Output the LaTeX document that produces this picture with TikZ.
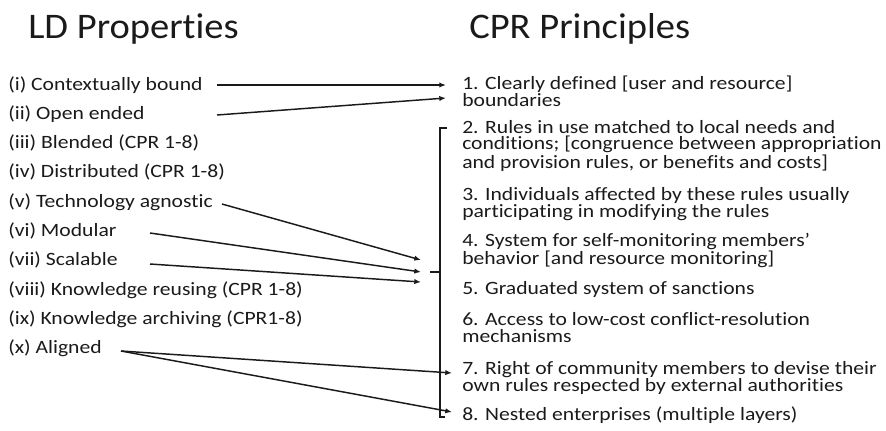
\documentclass[tikz,border=0pt]{standalone}
\usepackage{fontspec}
\setmainfont[FakeStretch=1.15, Ligatures=NoCommon]{Carlito}
\newfontfamily\titlefont[FakeStretch=1.07, Ligatures=NoCommon]{Carlito}
\usetikzlibrary{arrows.meta}
\definecolor{ink}{HTML}{1A1A1A}
\tikzset{
  titletext/.style={anchor=base west, inner sep=0pt, text=ink, font=\titlefont\fontsize{27pt}{30pt}\selectfont},
  lefttext/.style={anchor=base west, inner sep=0pt, text=ink, font=\fontsize{14.1pt}{16pt}\selectfont},
  righttext/.style={anchor=base west, inner sep=0pt, text=ink, align=left, font=\fontsize{14.1pt}{12.4pt}\selectfont},
  arr/.style={draw=ink, line width=1.1pt, -{Latex[length=5pt,width=4pt]}},
  brk/.style={draw=ink, line width=1.1pt}
}
\begin{document}
\begin{tikzpicture}[x=0.75pt, y=-0.75pt]
\useasboundingbox (0,0) rectangle (886,430);
% titles
\node[titletext] (t1) at (28,38) {LD Properties};
\node[titletext] (t2) at (469,38) {CPR Principles};
% left items
\node[lefttext] (l1) at (8,90.0) {(i) Contextually bound};
\node[lefttext] (l2) at (8,119.3) {(ii) Open ended};
\node[lefttext] (l3) at (8,148.6) {(iii) Blended (CPR 1-8)};
\node[lefttext] (l4) at (8,177.9) {(iv) Distributed (CPR 1-8)};
\node[lefttext] (l5) at (8,207.2) {(v) Technology agnostic};
\node[lefttext] (l6) at (8,236.5) {(vi) Modular};
\node[lefttext] (l7) at (8,265.8) {(vii) Scalable};
\node[lefttext] (l8) at (8,295.1) {(viii) Knowledge reusing (CPR 1-8)};
\node[lefttext] (l9) at (8,324.4) {(ix) Knowledge archiving (CPR1-8)};
\node[lefttext] (l10) at (8,353.7) {(x) Aligned};
% right items (anchor at baseline of last line)
\node[righttext] (r1) at (462,106.5) {1. Clearly defined [user and resource]\\boundaries};
\node[righttext] (r2) at (462,168) {2. Rules in use matched to local needs and\\conditions; [congruence between appropriation\\and provision rules, or benefits and costs]};
\node[righttext] (r3) at (462,217.1) {3. Individuals affected by these rules usually\\participating in modifying the rules};
\node[righttext] (r4) at (462,264.2) {4. System for self-monitoring members’\\behavior [and resource monitoring]};
\node[righttext] (r5) at (462,294.8) {5. Graduated system of sanctions};
\node[righttext] (r6) at (462,342) {6. Access to low-cost conflict-resolution\\mechanisms};
\node[righttext] (r7) at (462,391) {7. Right of community members to devise their\\own rules respected by external authorities};
\node[righttext] (r8) at (462,420) {8. Nested enterprises (multiple layers)};
% bracket
\coordinate (bt) at (447,128);
\coordinate (btl) at (440,128);
\coordinate (bbl) at (440,417);
\coordinate (bb) at (445,417);
\coordinate (bm) at (440,272);
\coordinate (bmt) at (430,272);
\draw[brk] (bt) -- (btl) -- (bbl) -- (bb);
\draw[brk] (bm) -- (bmt);
% arrow endpoints
\coordinate (s1) at (217,85);
\coordinate (s2) at (217,115);
\coordinate (e1) at (446,85);
\coordinate (e2) at (446,98);
\coordinate (s5) at (222,204);
\coordinate (s6) at (150,233);
\coordinate (s7) at (150,264);
\coordinate (e5) at (421,260);
\coordinate (e6) at (421,272);
\coordinate (e7) at (421,282);
\coordinate (s10) at (121,351);
\coordinate (e10a) at (452,373);
\coordinate (e10b) at (452,412);
\draw[arr] (s1) -- (e1);
\draw[arr] (s2) -- (e2);
\draw[arr] (s5) -- (e5);
\draw[arr] (s6) -- (e6);
\draw[arr] (s7) -- (e7);
\draw[arr] (s10) -- (e10a);
\draw[arr] (s10) -- (e10b);
\end{tikzpicture}
\end{document}
